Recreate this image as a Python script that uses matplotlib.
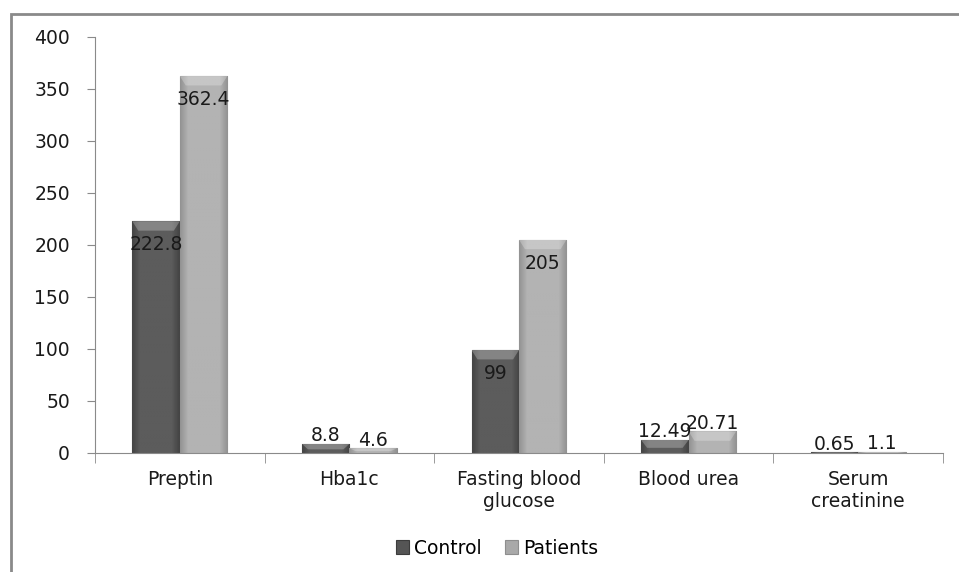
import numpy as np
import matplotlib.pyplot as plt
from matplotlib.patches import Rectangle

categories = ['Preptin', 'Hba1c', 'Fasting blood\nglucose', 'Blood urea', 'Serum\ncreatinine']
control = [222.8, 8.8, 99, 12.49, 0.65]
patients = [362.4, 4.6, 205, 20.71, 1.1]
control_labels = ['222.8', '8.8', '99', '12.49', '0.65']
patient_labels = ['362.4', '4.6', '205', '20.71', '1.1']

plt.rcParams['font.family'] = ['DejaVu Sans']
plt.rcParams['font.size'] = 13.5

fig = plt.figure(figsize=(9.59, 5.72), dpi=100)
ax = fig.add_axes([95 / 959, 1 - 453 / 572, (943 - 95) / 959, (453 - 37) / 572])

# outer chart border, cut by the image edges
fig.patches.append(Rectangle((11 / 959, -0.1), 1.2, 1 - 14 / 572 + 0.1,
                             transform=fig.transFigure, fill=False,
                             edgecolor='#8a8a8a', linewidth=2))

x = np.arange(len(categories))
w = 0.28
b1 = ax.bar(x - w / 2, control, w, color='#555555', edgecolor='#3c3c3c',
            linewidth=0.8, label='Control')
b2 = ax.bar(x + w / 2, patients, w, color='#a9a9a9', edgecolor='#8e8e8e',
            linewidth=0.8, label='Patients')


def shade(bars, lo, hi):
    # bevel-like look: darker sides, lighter middle, light cap on top
    prof = np.concatenate([np.linspace(0, 1, 6), np.ones(20), np.linspace(1, 0, 6)])
    img = lo + (hi - lo) * prof
    for r in bars:
        x0, y0 = r.get_x(), r.get_y()
        x1, y1 = x0 + r.get_width(), y0 + r.get_height()
        if y1 - y0 <= 0:
            continue
        im = ax.imshow(np.tile(img, (2, 1)), cmap='gray', vmin=0, vmax=1,
                       extent=[x0, x1, y0, y1], aspect='auto', zorder=1.5,
                       interpolation='bilinear')
        im.set_clip_path(r)
        cap = min(9, (y1 - y0) * 0.6)
        ax.fill([x0, x1, x1 - 0.035, x0 + 0.035], [y1, y1, y1 - cap, y1 - cap],
                color='white', alpha=0.25, lw=0, zorder=1.6)


shade(b1, 0.27, 0.36)
shade(b2, 0.58, 0.70)


def put_labels(bars, vals, texts):
    for r, v, t in zip(bars, vals, texts):
        cx = r.get_x() + r.get_width() / 2
        if v > 50:
            ax.annotate(t, (cx, v), xytext=(0, -17), textcoords='offset points',
                        ha='center', va='center', color='#1a1a1a', zorder=3)
        else:
            ax.annotate(t, (cx, v), xytext=(0, -1), textcoords='offset points',
                        ha='center', va='bottom', color='#1a1a1a', zorder=3)


put_labels(b1, control, control_labels)
put_labels(b2, patients, patient_labels)

ax.set_xlim(-0.5, len(categories) - 0.5)
ax.set_ylim(0, 400)
ax.set_yticks(range(0, 401, 50))
ax.set_xticks(x)
ax.set_xticklabels(categories, linespacing=1.2)
ax.set_xticks(np.arange(-0.5, len(categories), 1), minor=True)
ax.tick_params(axis='x', which='major', length=0, pad=12, labelcolor='#1a1a1a')
ax.tick_params(axis='x', which='minor', length=7, color='#8a8a8a')
ax.tick_params(axis='y', length=6, color='#8a8a8a', pad=12, labelcolor='#1a1a1a')

for s in ['top', 'right']:
    ax.spines[s].set_visible(False)
for s in ['left', 'bottom']:
    ax.spines[s].set_color('#8a8a8a')
    ax.spines[s].set_zorder(2)

fig.legend(loc='center', bbox_to_anchor=(497 / 959, 1 - 548 / 572), ncol=2,
           frameon=False, handlelength=0.7, handleheight=0.7, handletextpad=0.3,
           columnspacing=1.2)

fig.savefig('out.png', dpi=100)
